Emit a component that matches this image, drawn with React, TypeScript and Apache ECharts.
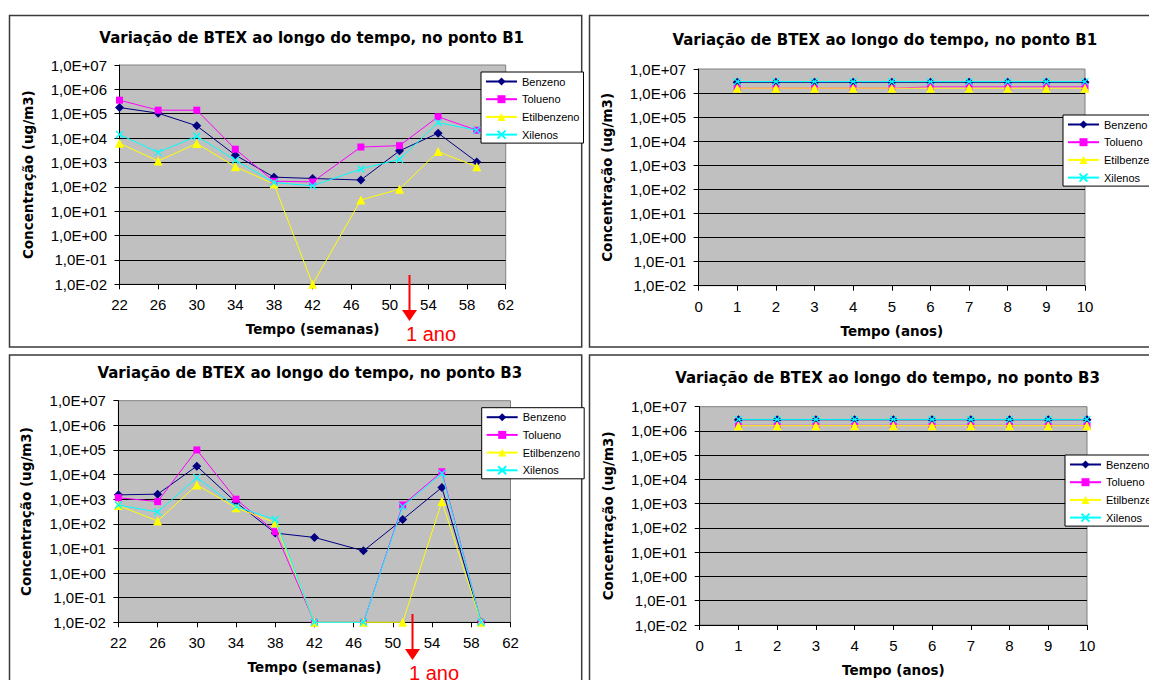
import React, { useEffect, useRef } from "react";
import * as echarts from "echarts";

// ---------- data ----------
const seriesNames = ["Benzeno", "Tolueno", "Etilbenzeno", "Xilenos"];
const weeks = [22, 26, 30, 34, 38, 42, 47, 51, 55, 59];
const years = [1, 2, 3, 4, 5, 6, 7, 8, 9, 10];

const b1WeeksBenzeno = [1.8e5, 1.05e5, 3.2e4, 2.0e3, 2.5e2, 2.2e2, 1.9e2, 3.0e3, 1.6e4, 1.05e3];
const b1WeeksTolueno = [3.6e5, 1.4e5, 1.4e5, 3.5e3, 1.7e2, 1.6e2, 4.3e3, 4.9e3, 7.5e4, 2.1e4];
const b1WeeksEtilbenzeno = [6.1e3, 1.15e3, 6.0e3, 6.7e2, 1.3e2, 1e-2, 29, 80, 2.8e3, 6.7e2];
const b1WeeksXilenos = [1.4e4, 2.6e3, 1.2e4, 1.25e3, 1.5e2, 1.1e2, 5.4e2, 1.35e3, 4.3e4, 2.1e4];

const b3WeeksBenzeno = [1.5e3, 1.6e3, 2.2e4, 7.5e2, 42, 28, 8, 1.5e2, 3.0e3, 1e-2];
const b3WeeksTolueno = [1.15e3, 8.0e2, 1.0e5, 1.0e3, 48, 1e-2, 1e-2, 5.8e2, 1.3e4, 1e-2];
const b3WeeksEtilbenzeno = [5.5e2, 1.3e2, 3.8e3, 4.5e2, 1.1e2, 1e-2, 1e-2, 1e-2, 8.0e2, 1e-2];
const b3WeeksXilenos = [5.8e2, 3.0e2, 7.5e3, 5.0e2, 1.5e2, 1e-2, 1e-2, 5.0e2, 1.1e4, 1e-2];

const b1YearsBenzeno = [2.8e6, 2.8e6, 2.8e6, 2.8e6, 2.8e6, 2.8e6, 2.8e6, 2.8e6, 2.8e6, 2.8e6];
const b1YearsTolueno = [1.6e6, 1.6e6, 1.6e6, 1.6e6, 1.6e6, 1.8e6, 1.8e6, 1.8e6, 1.8e6, 1.8e6];
const b1YearsEtilbenzeno = [1.6e6, 1.6e6, 1.6e6, 1.6e6, 1.6e6, 1.6e6, 1.6e6, 1.6e6, 1.6e6, 1.6e6];
const b1YearsXilenos = [3.0e6, 3.0e6, 3.0e6, 3.0e6, 3.0e6, 3.0e6, 3.0e6, 3.0e6, 3.0e6, 3.0e6];

const b3YearsBenzeno = [2.9e6, 2.9e6, 2.9e6, 2.9e6, 2.9e6, 2.9e6, 2.9e6, 2.9e6, 2.9e6, 2.9e6];
const b3YearsTolueno = [1.7e6, 1.7e6, 1.7e6, 1.7e6, 1.7e6, 1.7e6, 1.7e6, 1.7e6, 1.7e6, 1.7e6];
const b3YearsEtilbenzeno = [1.65e6, 1.65e6, 1.65e6, 1.65e6, 1.65e6, 1.65e6, 1.65e6, 1.65e6, 1.65e6, 1.65e6];
const b3YearsXilenos = [3.0e6, 3.0e6, 3.0e6, 3.0e6, 3.0e6, 3.0e6, 3.0e6, 3.0e6, 3.0e6, 3.0e6];

const yTickLabels = [
  "1,0E-02", "1,0E-01", "1,0E+00", "1,0E+01", "1,0E+02",
  "1,0E+03", "1,0E+04", "1,0E+05", "1,0E+06", "1,0E+07",
];

// ---------- styles / layout ----------
const colors = ["#000080", "#FF00FF", "#FFFF00", "#00FFFF"];
const symbols = ["diamond", "rect", "triangle", "path://M0,0L10,10M10,0L0,10"];
const symbolSizes = [9, 7, 9, 7];

const panels = [
  {
    title: "Variação de BTEX ao longo do tempo, no ponto B1",
    xName: "Tempo (semanas)",
    x: weeks, xMin: 22, xMax: 62, xInterval: 4,
    data: [b1WeeksBenzeno, b1WeeksTolueno, b1WeeksEtilbenzeno, b1WeeksXilenos],
    grid: { left: 119.5, top: 65, width: 386.2, height: 219.3 },
    titlePos: [311.7, 38],
    legendPos: [481, 72],
    box: [9.5, 15.5, 572.2, 331.5],
    arrow: { x: 409.5, y1: 275, y2: 321, ano: [431, 334] },
  },
  {
    title: "Variação de BTEX ao longo do tempo, no ponto B1",
    xName: "Tempo (anos)",
    x: years, xMin: 0, xMax: 10, xInterval: 1,
    data: [b1YearsBenzeno, b1YearsTolueno, b1YearsEtilbenzeno, b1YearsXilenos],
    grid: { left: 698.6, top: 69, width: 386.4, height: 216.7 },
    titlePos: [884.8, 40],
    legendPos: [1063, 115],
    box: [589.5, 15.5, 620, 331.5],
    arrow: null,
  },
  {
    title: "Variação de BTEX ao longo do tempo, no ponto B3",
    xName: "Tempo (semanas)",
    x: weeks, xMin: 22, xMax: 62, xInterval: 4,
    data: [b3WeeksBenzeno, b3WeeksTolueno, b3WeeksEtilbenzeno, b3WeeksXilenos],
    grid: { left: 118.4, top: 400.7, width: 392.1, height: 221.6 },
    titlePos: [309.8, 373.3],
    legendPos: [481.7, 407.7],
    box: [9.5, 355, 572.2, 400],
    arrow: { x: 412.5, y1: 614, y2: 660, ano: [434, 673] },
  },
  {
    title: "Variação de BTEX ao longo do tempo, no ponto B3",
    xName: "Tempo (anos)",
    x: years, xMin: 0, xMax: 10, xInterval: 1,
    data: [b3YearsBenzeno, b3YearsTolueno, b3YearsEtilbenzeno, b3YearsXilenos],
    grid: { left: 699.7, top: 406.7, width: 387.3, height: 218.3 },
    titlePos: [887.5, 378],
    legendPos: [1065, 455],
    box: [589.5, 355, 620, 400],
    arrow: null,
  },
];

const labelFont = "'Liberation Sans', Arial, sans-serif";
const boldFont = "'DejaVu Sans', Verdana, sans-serif";

function buildOption() {
  const grids: any[] = [];
  const xAxes: any[] = [];
  const yAxes: any[] = [];
  const series: any[] = [];
  const legends: any[] = [];
  const graphics: any[] = [];

  panels.forEach((p, pi) => {
    grids.push({
      ...p.grid,
      show: true,
      backgroundColor: "#C0C0C0",
      borderColor: "#808080",
      borderWidth: 1,
      containLabel: false,
      outerBoundsMode: "none",
    });
    xAxes.push({
      type: "value",
      gridIndex: pi,
      min: p.xMin,
      max: p.xMax,
      interval: p.xInterval,
      name: p.xName,
      nameLocation: "middle",
      nameGap: 38,
      nameTextStyle: { fontFamily: boldFont, fontWeight: "bold", fontSize: 13.5, color: "#000" },
      axisLine: { show: true, lineStyle: { color: "#000", width: 1 } },
      axisTick: { show: true, length: 5, lineStyle: { color: "#000" } },
      axisLabel: { fontFamily: labelFont, fontSize: 15, color: "#000", margin: 13 },
      splitLine: { show: false },
    });
    yAxes.push({
      type: "log",
      logBase: 10,
      gridIndex: pi,
      min: 0.01,
      max: 1e7,
      splitNumber: 10,
      name: "Concentração (ug/m3)",
      nameLocation: "middle",
      nameGap: 85,
      nameTextStyle: { fontFamily: boldFont, fontWeight: "bold", fontSize: 13.5, color: "#000" },
      axisLine: { show: true, lineStyle: { color: "#000", width: 1 } },
      axisTick: { show: true, length: 5, lineStyle: { color: "#000" } },
      axisLabel: {
        fontFamily: labelFont,
        fontSize: 15,
        color: "#000",
        margin: 12.5,
        formatter: (v: number) => yTickLabels[Math.round(Math.log10(v)) + 2] ?? "",
      },
      splitLine: { show: true, showMaxLine: false, showMinLine: false, lineStyle: { color: "#000", width: 1 } },
      minorTick: { show: false },
    });
    seriesNames.forEach((name, si) => {
      series.push({
        type: "line",
        name,
        xAxisIndex: pi,
        yAxisIndex: pi,
        data: p.x.map((xv, k) => [xv, p.data[si][k]]),
        symbol: symbols[si],
        symbolSize: symbolSizes[si],
        showAllSymbol: true,
        clip: false,
        lineStyle: { color: colors[si], width: 1 },
        itemStyle: si === 3
          ? { color: colors[si], borderColor: colors[si], borderWidth: 1.3 }
          : { color: colors[si], borderWidth: 0 },
        emphasis: { disabled: true },
        z: 3 + si,
      });
    });
    legends.push({
      left: p.legendPos[0],
      top: p.legendPos[1],
      orient: "vertical",
      data: seriesNames,
      selectedMode: false,
      backgroundColor: "#FFFFFF",
      borderColor: "#000000",
      borderWidth: 1,
      borderRadius: 0,
      padding: [4, 4, 3, 4],
      itemGap: 6.7,
      itemWidth: 31,
      itemHeight: 10,
      textStyle: { fontFamily: labelFont, fontSize: 11, color: "#000" },
    });
    graphics.push({
      type: "rect",
      z: -10,
      shape: { x: p.box[0], y: p.box[1], width: p.box[2], height: p.box[3] },
      style: { fill: "#FFFFFF", stroke: "#3a3a3a", lineWidth: 1.5 },
      silent: true,
    });
    graphics.push({
      type: "text",
      z: 10,
      x: p.titlePos[0],
      y: p.titlePos[1],
      style: {
        text: p.title,
        fontFamily: boldFont,
        fontWeight: "bold",
        fontSize: 15,
        fill: "#000",
        align: "center",
        verticalAlign: "middle",
      },
      silent: true,
    });
    if (p.arrow) {
      const a = p.arrow;
      graphics.push({
        type: "line",
        z: 20,
        shape: { x1: a.x, y1: a.y1, x2: a.x, y2: a.y2 - 10 },
        style: { stroke: "#FF0000", lineWidth: 2 },
        silent: true,
      });
      graphics.push({
        type: "polygon",
        z: 20,
        shape: { points: [[a.x - 7.5, a.y2 - 11], [a.x + 7.5, a.y2 - 11], [a.x, a.y2]] },
        style: { fill: "#FF0000" },
        silent: true,
      });
      graphics.push({
        type: "text",
        z: 20,
        x: a.ano[0],
        y: a.ano[1],
        style: {
          text: "1 ano",
          fontFamily: labelFont,
          fontSize: 20,
          fill: "#FF0000",
          align: "center",
          verticalAlign: "middle",
        },
        silent: true,
      });
    }
  });

  return {
    animation: false,
    backgroundColor: "#FFFFFF",
    grid: grids,
    xAxis: xAxes,
    yAxis: yAxes,
    legend: legends,
    series,
    graphic: { elements: graphics },
  };
}

export default function App() {
  const ref = useRef<HTMLDivElement>(null);
  useEffect(() => {
    if (!ref.current) return;
    const chart = echarts.init(ref.current, null, { renderer: "svg" });
    chart.setOption(buildOption() as any);
    return () => chart.dispose();
  }, []);
  return (
    <div
      ref={ref}
      style={{ position: "fixed", left: 0, top: 0, width: 1149, height: 680, background: "#fff" }}
    />
  );
}
